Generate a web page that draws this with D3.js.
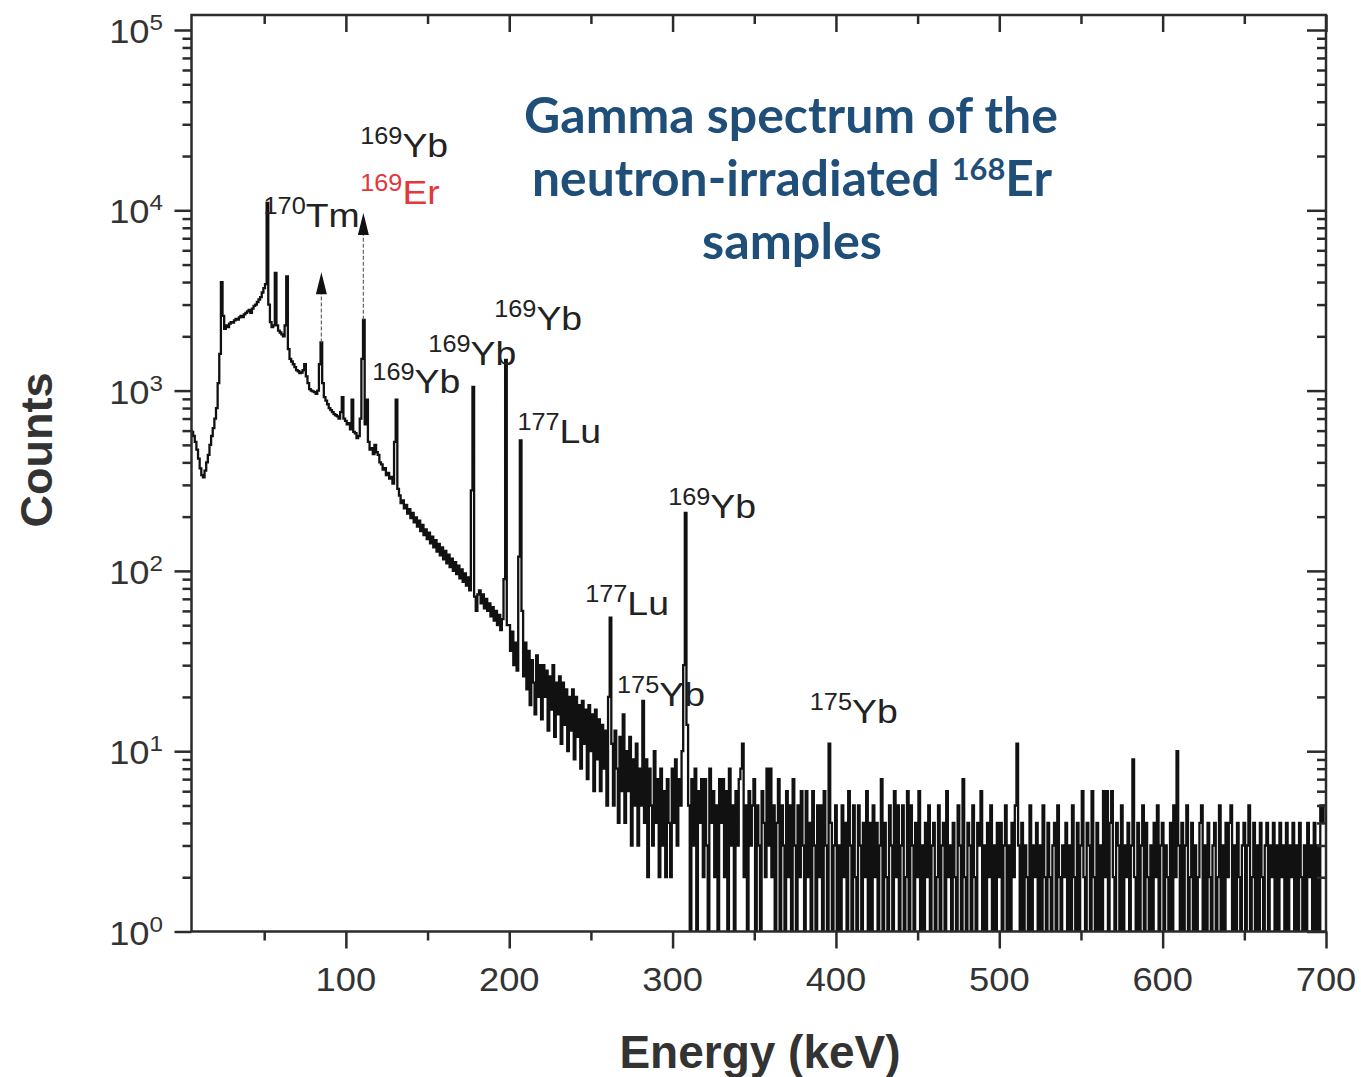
<!DOCTYPE html>
<html>
<head>
<meta charset="utf-8">
<script src="https://cdn.jsdelivr.net/npm/d3@7"></script>
<style>
  body { margin: 0; background: #fff; }
  svg { display: block; }
</style>
</head>
<body>
<svg width="1361" height="1077"></svg>
<script>
// counts per 1 keV channel
const countsFrom5 = [ // 5..99 keV
    600, 590, 560, 520, 470,
    420, 370, 340, 330, 360, 400, 440, 500, 560, 620,
    700, 800, 1100, 1600, 4000, 2600, 2200, 2300, 2250, 2350,
    2400, 2380, 2450, 2500, 2480, 2550, 2600, 2560, 2650, 2700,
    2750, 2800, 2700, 2850, 2950, 3000, 3100, 3200, 3300, 3500,
    3700, 3900, 11000, 3000, 2400, 2250, 2300, 4500, 2300, 2150,
    2100, 2050, 2000, 2300, 4300, 1700, 1500, 1450, 1400, 1350,
    1300, 1280, 1250, 1260, 1300, 1400, 1200, 1100, 1020, 1000,
    990, 980, 960, 1000, 1400, 1850, 1100, 920, 880, 840,
    800, 780, 760, 740, 730, 720, 700, 760, 920, 700
];
const counts100 = [
    680, 650, 660, 610, 890, 590, 580, 545, 560, 700,
    1500, 2470, 650, 890, 520, 470, 480, 445, 500, 455,
    440, 400, 390, 365, 372, 340, 350, 325, 332, 305,
    520, 890, 285, 262, 238, 246, 222, 232, 208, 220,
    196, 210, 186, 198, 176, 190, 166, 180, 158, 170,
    150, 163, 142, 155, 135, 148, 128, 141, 122, 135,
    116, 129, 110, 123, 105, 117, 100, 112, 96, 107,
    91, 102, 87, 97, 83, 92, 78, 280, 1050, 72,
    60, 74, 78, 66, 74, 62, 70, 60, 66, 56,
    63, 53, 60, 50, 57, 47, 54, 90, 1480, 50
];
const counts200 = [
    50, 36, 46, 30, 40, 28, 120, 530, 60, 26,
    40, 22, 36, 18, 32, 24, 16, 34, 20, 30,
    15, 30, 20, 28, 13, 26, 17, 30, 12, 24,
    16, 26, 11, 24, 14, 22, 10, 20, 13, 22,
    9, 20, 12, 18, 8, 19, 11, 17, 7, 18,
    10, 16, 6, 17, 9, 15, 6, 14, 8, 13,
    5, 20, 55, 11, 5, 13, 8, 4, 12, 6,
    16, 4, 10, 6, 12, 3, 9, 5, 11, 3,
    8, 5, 19, 4, 9, 2, 8, 5, 3, 10,
    4, 7, 2, 8, 3, 6, 2, 7, 4, 2
];
const counts300 = [
    8, 4, 9, 3, 7, 5, 10, 30, 210, 14,
    5, 0, 7, 3, 8, 1, 6, 4, 7, 2,
    7, 3, 1, 8, 4, 6, 2, 5, 0, 7,
    4, 7, 2, 6, 1, 8, 3, 5, 0, 6,
    3, 7, 8, 11, 2, 5, 0, 6, 3, 5,
    7, 1, 5, 3, 0, 6, 4, 2, 8, 3,
    8, 2, 5, 0, 4, 7, 1, 5, 3, 0,
    6, 2, 5, 1, 7, 3, 0, 5, 2, 6,
    3, 0, 6, 2, 4, 1, 6, 3, 0, 5,
    2, 5, 1, 6, 3, 0, 11, 4, 1, 3
];
const counts400 = [
    5, 1, 3, 0, 5, 2, 4, 1, 6, 3,
    0, 5, 2, 1, 5, 3, 0, 4, 2, 6,
    1, 4, 0, 5, 2, 4, 1, 3, 7, 0,
    4, 2, 1, 5, 3, 0, 6, 2, 5, 1,
    3, 5, 0, 2, 6, 1, 5, 3, 0, 4,
    2, 6, 1, 3, 0, 4, 2, 5, 1, 3,
    4, 0, 2, 5, 1, 3, 4, 0, 6, 2,
    3, 1, 4, 2, 0, 5, 3, 1, 7, 2,
    0, 4, 3, 1, 5, 2, 0, 4, 3, 6,
    1, 3, 0, 4, 2, 5, 1, 3, 0, 4
];
const counts500 = [
    2, 4, 0, 3, 5, 1, 3, 0, 4, 2,
    5, 11, 3, 1, 4, 0, 3, 2, 1, 5,
    0, 3, 2, 4, 1, 3, 0, 5, 2, 1,
    4, 2, 0, 3, 4, 1, 5, 2, 0, 3,
    2, 4, 1, 3, 0, 5, 2, 1, 4, 0,
    3, 6, 2, 0, 4, 3, 1, 6, 2, 0,
    4, 1, 3, 0, 6, 2, 6, 1, 4, 6,
    2, 0, 4, 3, 1, 5, 0, 3, 2, 4,
    1, 3, 9, 2, 0, 4, 1, 3, 5, 0,
    4, 2, 1, 3, 0, 4, 2, 5, 1, 3
];
const counts600 = [
    4, 0, 3, 2, 1, 4, 0, 5, 2, 10,
    3, 0, 4, 1, 3, 5, 0, 2, 4, 1,
    3, 0, 2, 4, 5, 1, 3, 0, 4, 2,
    1, 3, 4, 0, 2, 5, 1, 3, 0, 4,
    2, 4, 5, 0, 3, 1, 4, 2, 0, 3,
    4, 1, 3, 5, 0, 2, 4, 1, 3, 0,
    4, 2, 1, 3, 4, 0, 3, 2, 4, 1,
    3, 0, 4, 2, 3, 1, 4, 0, 3, 2,
    4, 1, 3, 0, 4, 2, 1, 3, 0, 4,
    2, 3, 0, 4, 1, 3, 0, 5, 4, 5,
    5
];

const segmentStarts = [5, 100, 200, 300, 400, 500, 600];
const segmentCounts = [countsFrom5, counts100, counts200, counts300, counts400, counts500, counts600];

const xMajorTicks = [100, 200, 300, 400, 500, 600, 700];
const xMinorTicks = [50, 150, 250, 350, 450, 550, 650];
const yExponents = [0, 1, 2, 3, 4, 5];

// peak labels anchored at (energy, counts) of their left end / baseline
const peakLabels = [
    { mass: "169", element: "Yb", energy: 108.8, counts: 19700, color: "#222" },
    { mass: "169", element: "Er", energy: 108.8, counts: 10900, color: "#e2383d" },
    { mass: "170", element: "Tm", energy: 49.6, counts: 8100, color: "#222" },
    { mass: "169", element: "Yb", energy: 116.2, counts: 968, color: "#222" },
    { mass: "169", element: "Yb", energy: 150.5, counts: 1384, color: "#222" },
    { mass: "169", element: "Yb", energy: 190.8, counts: 2160, color: "#222" },
    { mass: "177", element: "Lu", energy: 205, counts: 511, color: "#222" },
    { mass: "169", element: "Yb", energy: 297.3, counts: 196, color: "#222" },
    { mass: "177", element: "Lu", energy: 246.5, counts: 56.7, color: "#222" },
    { mass: "175", element: "Yb", energy: 266, counts: 17.9, color: "#222" },
    { mass: "175", element: "Yb", energy: 384, counts: 14.4, color: "#222" }
];

// off-scale peaks: dotted continuation up to an arrow head
const arrows = [
    { energy: 85, from: 1850, to: 4540 },
    { energy: 110.7, from: 2470, to: 9660 }
];

const titleLines = ["Gamma spectrum of the", "neutron-irradiated ", "samples"];

const spectrum = segmentStarts.flatMap((start, s) =>
    segmentCounts[s].map((c, i) => ({ energy: start + i, counts: c }))
);

const svg = d3.select("svg");
const plotLeft = 191.5, plotRight = 1326, plotTop = 15, plotBottom = 931.5;
const font = "'Liberation Sans', Arial, sans-serif";
const ink = "#2b2b2b";

const x = d3.scaleLinear().domain([5.5, 700]).range([plotLeft, plotRight]);
const y = d3.scaleLog().domain([1, 1e5]).range([plotBottom, 30]);

const yMinor = [];
for (let d = 0; d < 5; d++) {
    for (let k = 2; k <= 9; k++) yMinor.push(k * Math.pow(10, d));
}
const yMajor = yExponents.map(e => Math.pow(10, e));

svg.append("defs").append("clipPath").attr("id", "plot")
    .append("rect").attr("x", plotLeft).attr("y", plotTop)
    .attr("width", plotRight - plotLeft).attr("height", plotBottom - plotTop);

// spectrum
const line = d3.line()
    .x(d => x(d.energy))
    .y(d => d.counts >= 1 ? y(d.counts) : y(1))
    .curve(d3.curveStep);

svg.append("path")
    .datum(spectrum)
    .attr("clip-path", "url(#plot)")
    .attr("fill", "none")
    .attr("stroke", "#111")
    .attr("stroke-width", 2.3)
    .attr("d", line);

// arrows
arrows.forEach(a => {
    const ax = x(a.energy);
    svg.append("line")
        .attr("x1", ax).attr("x2", ax)
        .attr("y1", y(a.from)).attr("y2", y(a.to) + 20)
        .attr("stroke", "#666").attr("stroke-width", 1.2)
        .attr("stroke-dasharray", "4,2");
    svg.append("path")
        .attr("d", `M${ax},${y(a.to)} L${ax - 5.5},${y(a.to) + 22} L${ax + 5.5},${y(a.to) + 22} Z`)
        .attr("fill", "#111");
});

// axes
function styleAxis(g) {
    g.select(".domain").remove();
    g.selectAll("line").attr("stroke", ink).attr("stroke-width", 2.5);
    g.selectAll("text").remove();
}

svg.append("g").attr("transform", `translate(0,${plotBottom})`)
    .call(d3.axisBottom(x).tickValues(xMajorTicks).tickSize(17)).call(styleAxis);
svg.append("g").attr("transform", `translate(0,${plotBottom})`)
    .call(d3.axisBottom(x).tickValues(xMinorTicks).tickSize(9)).call(styleAxis);
svg.append("g").attr("transform", `translate(0,${plotTop})`)
    .call(d3.axisTop(x).tickValues(xMajorTicks).tickSize(-17)).call(styleAxis);
svg.append("g").attr("transform", `translate(0,${plotTop})`)
    .call(d3.axisTop(x).tickValues(xMinorTicks).tickSize(-9)).call(styleAxis);

svg.append("g").attr("transform", `translate(${plotLeft},0)`)
    .call(d3.axisLeft(y).tickValues(yMajor).tickSize(17)).call(styleAxis);
svg.append("g").attr("transform", `translate(${plotLeft},0)`)
    .call(d3.axisLeft(y).tickValues(yMinor).tickSize(9)).call(styleAxis);
svg.append("g").attr("transform", `translate(${plotRight},0)`)
    .call(d3.axisRight(y).tickValues(yMajor).tickSize(-19)).call(styleAxis);
svg.append("g").attr("transform", `translate(${plotRight},0)`)
    .call(d3.axisRight(y).tickValues(yMinor).tickSize(-9)).call(styleAxis);

svg.append("rect")
    .attr("x", plotLeft).attr("y", plotTop)
    .attr("width", plotRight - plotLeft).attr("height", plotBottom - plotTop)
    .attr("fill", "none").attr("stroke", ink).attr("stroke-width", 2.5);

// text drawn slightly wide, like the source figure
function stretched(px, py, anchor) {
    return svg.append("text")
        .attr("transform", `translate(${px},${py}) scale(1.1,1)`)
        .attr("text-anchor", anchor)
        .attr("font-family", font);
}

xMajorTicks.forEach(v => {
    stretched(x(v), 991, "middle").attr("font-size", 33).attr("fill", "#333").text(v);
});

yExponents.forEach(e => {
    const t = stretched(163, y(Math.pow(10, e)) + 13, "end").attr("fill", "#333");
    t.append("tspan").attr("font-size", 33).text("10");
    t.append("tspan").attr("font-size", 22).attr("dy", -13).text(e);
});

peakLabels.forEach(d => {
    const t = stretched(x(d.energy), y(d.counts), "start").attr("fill", d.color);
    t.append("tspan").attr("font-size", 23).attr("dy", -13).text(d.mass);
    t.append("tspan").attr("font-size", 34).attr("dy", 13).text(d.element);
});

// axis titles
svg.append("text")
    .attr("transform", "translate(52,450) rotate(-90)")
    .attr("text-anchor", "middle")
    .attr("font-family", font).attr("font-weight", "bold")
    .attr("font-size", 45).attr("fill", "#333")
    .text("Counts");

svg.append("text")
    .attr("x", 760).attr("y", 1068)
    .attr("text-anchor", "middle")
    .attr("font-family", font).attr("font-weight", "bold")
    .attr("font-size", 46).attr("fill", "#333")
    .text("Energy (keV)");

// overlay title
const titleCenters = [791, 792, 792];
const titleBaselines = [133, 196, 259];
const titleWidths = [534, 520, 180];
titleLines.forEach((txt, i) => {
    const t = svg.append("text")
        .attr("text-anchor", "middle")
        .attr("font-family", "Lato, 'Open Sans', sans-serif")
        .attr("font-weight", 700)
        .attr("font-size", 50)
        .attr("fill", "#1F4E79");
    t.append("tspan").text(txt);
    if (i === 1) {
        t.append("tspan").attr("font-size", 31).attr("dy", -16).text("168");
        t.append("tspan").attr("dy", 16).text("Er");
    }
    const w = t.node().getComputedTextLength();
    t.attr("transform", `translate(${titleCenters[i]},${titleBaselines[i]}) scale(${titleWidths[i] / w},1)`);
});
</script>
</body>
</html>
